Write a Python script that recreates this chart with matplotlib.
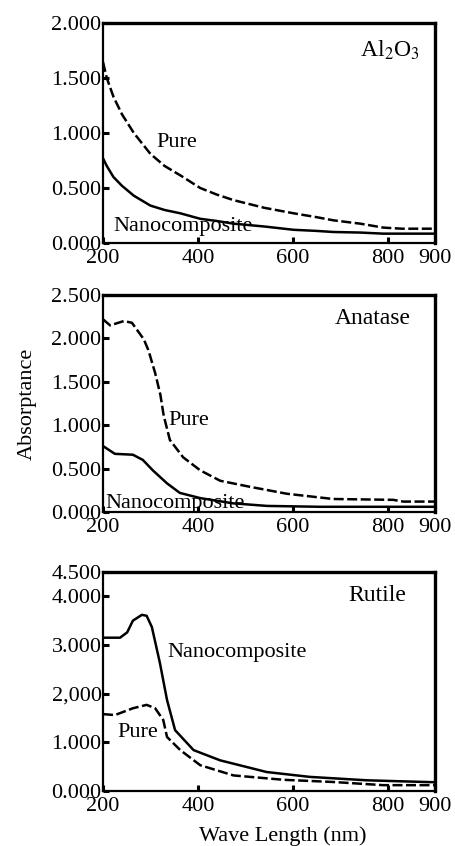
import matplotlib

matplotlib.use("Agg")
import matplotlib.pyplot as plt

plt.rcParams["font.family"] = ["Liberation Serif", "DejaVu Serif"]
plt.rcParams["mathtext.fontset"] = "stix"

# Absorptance spectra, wavelength in nm
al_x = [200, 208, 222, 240, 265, 300, 330, 363, 405, 440, 475, 540, 602, 650, 686, 742, 791, 830, 900]
al_pure = [1.645, 1.50, 1.33, 1.17, 1.00, 0.81, 0.70, 0.615, 0.50, 0.44, 0.39, 0.32, 0.27, 0.235, 0.206, 0.176, 0.14, 0.13, 0.13]
al_nano = [0.77, 0.70, 0.60, 0.52, 0.43, 0.34, 0.30, 0.27, 0.22, 0.20, 0.176, 0.15, 0.12, 0.11, 0.10, 0.095, 0.085, 0.085, 0.085]

an_x_pure = [200, 215, 244, 261, 286, 296, 310, 321, 328, 341, 369, 405, 447, 510, 588, 685, 812, 833, 900]
an_pure = [2.22, 2.15, 2.20, 2.18, 1.99, 1.86, 1.60, 1.35, 1.11, 0.83, 0.63, 0.48, 0.36, 0.29, 0.21, 0.15, 0.14, 0.12, 0.12]
an_x_nano = [200, 225, 263, 284, 305, 335, 362, 405, 474, 546, 658, 900]
an_nano = [0.76, 0.67, 0.66, 0.60, 0.48, 0.33, 0.22, 0.16, 0.10, 0.07, 0.06, 0.06]

ru_x_nano = [200, 236, 251, 263, 282, 292, 303, 320, 335, 352, 391, 447, 545, 636, 756, 826, 900]
ru_nano = [3.15, 3.15, 3.26, 3.50, 3.62, 3.60, 3.37, 2.63, 1.87, 1.25, 0.84, 0.63, 0.39, 0.29, 0.22, 0.20, 0.18]
ru_x_pure = [200, 225, 263, 292, 310, 327, 335, 363, 405, 475, 581, 686, 791, 900]
ru_pure = [1.58, 1.56, 1.70, 1.77, 1.70, 1.46, 1.11, 0.84, 0.53, 0.32, 0.23, 0.185, 0.12, 0.12]

x_ticks = [200, 400, 600, 800, 900]
x_ticklabels = ["200", "400", "600", "800", "900"]
al_yticks = [0, 0.5, 1.0, 1.5, 2.0]
al_yticklabels = ["0.000", "0.500", "1.000", "1.500", "2.000"]
an_yticks = [0, 0.5, 1.0, 1.5, 2.0, 2.5]
an_yticklabels = ["0.000", "0.500", "1.000", "1.500", "2.000", "2.500"]
ru_yticks = [0, 1, 2, 3, 4, 4.5]
ru_yticklabels = ["0.000", "1.000", "2,000", "3.000", "4.000", "4.500"]

FS = 16
FS_TITLE = 17
W, H = 456, 846
fig = plt.figure(figsize=(W / 100, H / 100), dpi=100)


def make_axes(top_px, bottom_px):
    left, right = 103, 435
    return fig.add_axes([left / W, 1 - bottom_px / H, (right - left) / W, (bottom_px - top_px) / H])


def style(ax, yticks, ylabels, ymax):
    ax.set_xlim(200, 900)
    ax.set_ylim(0, ymax)
    ax.set_xticks(x_ticks)
    ax.set_xticklabels(x_ticklabels, fontsize=FS)
    ax.set_yticks(yticks)
    ax.set_yticklabels(ylabels, fontsize=FS)
    ax.tick_params(direction="in", length=4, width=2.2)
    ax.tick_params(axis="y", pad=1)
    ax.tick_params(axis="x", pad=4)
    for side in ("left", "bottom"):
        ax.spines[side].set_linewidth(1.6)
    for side in ("top", "right"):
        ax.spines[side].set_linewidth(2.4)


dash = (0, (4, 1.4))

ax1 = make_axes(23, 243)
ax1.plot(al_x, al_pure, color="black", lw=1.8, linestyle=dash)
ax1.plot(al_x, al_nano, color="black", lw=1.8)
style(ax1, al_yticks, al_yticklabels, 2.0)
ax1.text(805, 1.75, r"Al$_2$O$_3$", fontsize=FS_TITLE, ha="center", va="center")
ax1.text(356, 0.91, "Pure", fontsize=FS, ha="center", va="center")
ax1.text(221, 0.15, "Nanocomposite", fontsize=FS, ha="left", va="center")

ax2 = make_axes(295, 512)
ax2.plot(an_x_pure, an_pure, color="black", lw=1.8, linestyle=dash)
ax2.plot(an_x_nano, an_nano, color="black", lw=1.8)
style(ax2, an_yticks, an_yticklabels, 2.5)
ax2.text(768, 2.23, "Anatase", fontsize=FS_TITLE, ha="center", va="center")
ax2.text(337, 1.05, "Pure", fontsize=FS, ha="left", va="center")
ax2.text(204, 0.10, "Nanocomposite", fontsize=FS, ha="left", va="center")
ax2.set_ylabel("Absorptance", fontsize=FS)
ax2.yaxis.set_label_coords(-0.20, 0.5)

ax3 = make_axes(572, 791)
ax3.plot(ru_x_nano, ru_nano, color="black", lw=1.8)
ax3.plot(ru_x_pure, ru_pure, color="black", lw=1.8, linestyle=dash)
style(ax3, ru_yticks, ru_yticklabels, 4.5)
ax3.text(778, 4.02, "Rutile", fontsize=FS_TITLE, ha="center", va="center")
ax3.text(335, 2.85, "Nanocomposite", fontsize=FS, ha="left", va="center")
ax3.text(230, 1.21, "Pure", fontsize=FS, ha="left", va="center")
ax3.set_xlabel("Wave Length (nm)", fontsize=FS)
ax3.xaxis.set_label_coords(0.542, -0.16)

fig.savefig("out.png", dpi=100, facecolor="white")
